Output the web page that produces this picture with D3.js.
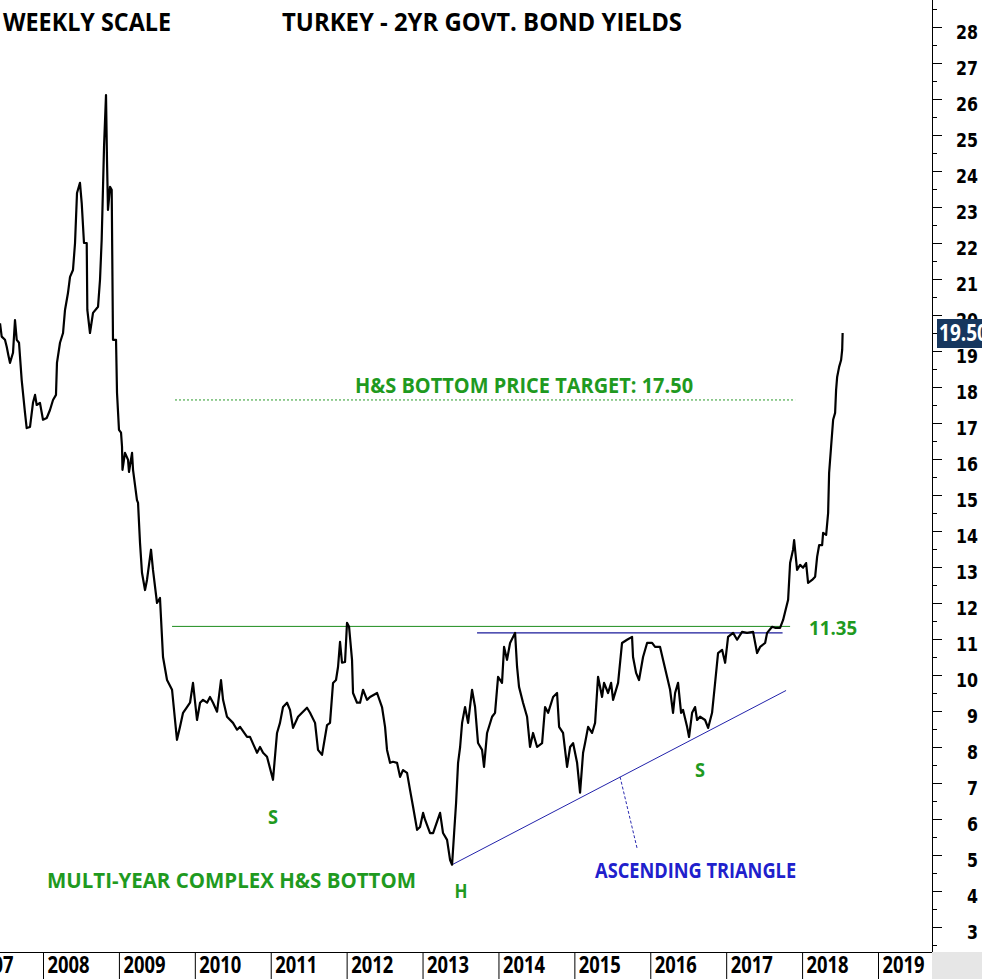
<!DOCTYPE html>
<html><head><meta charset="utf-8">
<script src="https://cdn.jsdelivr.net/npm/d3@7"></script>
<style>
body{margin:0;background:#fff;}
svg{display:block;}
</style>
</head><body>
<script>
// ---------- DATA ----------
const chartTitle = "TURKEY - 2YR GOVT. BOND YIELDS";
const scaleNote = "WEEKLY SCALE";

// decimal-year dates of the weekly series
const dates = [
2007.434,2007.456,2007.499,2007.522,2007.543,2007.565,2007.605,2007.631,2007.654,2007.684,
2007.719,2007.763,2007.785,2007.829,2007.868,2007.895,2007.917,2007.960,2008.000,2008.049,
2008.092,2008.132,2008.171,2008.184,2008.224,2008.264,2008.290,2008.329,2008.356,2008.395,
2008.422,2008.448,2008.487,2008.510,2008.540,2008.576,2008.584,2008.619,2008.659,2008.725,
2008.751,2008.773,2008.804,2008.830,2008.843,2008.856,2008.883,2008.905,2008.922,2008.962,
2008.975,2009.001,2009.028,2009.041,2009.047,2009.080,2009.120,2009.133,2009.173,2009.186,
2009.238,2009.252,2009.278,2009.304,2009.344,2009.370,2009.423,2009.449,2009.502,2009.541,
2009.581,2009.634,2009.700,2009.765,2009.805,2009.845,2009.897,2009.937,2009.976,2010.029,
2010.069,2010.108,2010.161,2010.200,2010.240,2010.293,2010.345,2010.372,2010.424,2010.503,
2010.556,2010.596,2010.688,2010.727,2010.820,2010.859,2010.899,2010.951,2011.030,2011.083,
2011.122,2011.162,2011.215,2011.254,2011.294,2011.360,2011.412,2011.478,2011.518,2011.584,
2011.623,2011.676,2011.742,2011.781,2011.821,2011.860,2011.887,2011.913,2011.939,2011.979,
2012.005,2012.032,2012.071,2012.084,2012.137,2012.177,2012.216,2012.269,2012.308,2012.401,
2012.466,2012.506,2012.532,2012.572,2012.611,2012.664,2012.704,2012.743,2012.796,2012.835,
2012.875,2012.928,2012.967,2013.007,2013.033,2013.099,2013.139,2013.231,2013.270,2013.323,
2013.363,2013.389,2013.416,2013.442,2013.468,2013.495,2013.521,2013.560,2013.600,2013.652,
2013.692,2013.731,2013.784,2013.810,2013.850,2013.916,2013.955,2013.995,2014.047,2014.074,
2014.113,2014.153,2014.219,2014.245,2014.271,2014.324,2014.377,2014.416,2014.456,2014.509,
2014.575,2014.614,2014.654,2014.720,2014.772,2014.799,2014.851,2014.904,2014.944,2014.983,
2015.036,2015.075,2015.115,2015.141,2015.181,2015.233,2015.273,2015.312,2015.365,2015.391,
2015.444,2015.484,2015.510,2015.576,2015.628,2015.694,2015.760,2015.773,2015.813,2015.852,
2015.905,2015.958,2016.024,2016.063,2016.129,2016.169,2016.221,2016.261,2016.300,2016.327,
2016.366,2016.406,2016.432,2016.485,2016.511,2016.551,2016.590,2016.617,2016.656,2016.722,
2016.762,2016.814,2016.854,2016.893,2016.946,2016.986,2017.025,2017.091,2017.144,2017.209,
2017.275,2017.354,2017.407,2017.447,2017.513,2017.539,2017.605,2017.644,2017.710,2017.750,
2017.776,2017.816,2017.842,2017.881,2017.895,2017.934,2017.974,2018.013,2018.053,2018.079,
2018.132,2018.172,2018.198,2018.225,2018.264,2018.277,2018.317,2018.343,2018.356,2018.382,
2018.409,2018.435,2018.448,2018.462,2018.488,2018.514,2018.528,2018.534
];
// 2-year yield, %
const yields = [
19.77,19.40,19.31,19.12,18.89,18.67,18.95,19.86,19.31,19.23,
18.20,17.28,16.86,16.89,17.56,17.78,17.50,17.56,17.09,17.14,
17.36,17.64,17.78,18.67,19.23,19.50,20.14,20.61,21.06,21.25,
22.00,23.39,23.67,23.11,22.00,22.00,20.14,19.50,20.06,20.23,
20.98,22.09,24.67,26.11,24.31,22.92,23.56,23.48,19.31,19.31,
17.84,16.81,16.73,16.34,15.70,16.17,15.98,15.64,16.17,15.70,
14.86,14.78,13.67,12.84,12.36,12.64,13.48,12.92,12.00,12.14,
10.50,9.86,9.59,8.20,8.56,8.95,9.11,9.23,9.78,8.75,
9.23,9.31,9.23,9.39,9.23,8.98,9.86,9.31,8.84,8.67,
8.48,8.56,8.28,8.28,7.84,8.00,7.84,7.73,7.09,8.39,
8.67,9.11,9.23,9.03,8.53,8.84,8.95,9.09,8.95,8.67,
7.92,7.78,8.61,8.67,9.78,9.86,10.23,10.92,10.34,10.36,
11.45,11.34,10.42,9.50,9.23,9.23,9.59,9.31,9.39,9.50,
9.11,8.56,7.92,7.56,7.59,7.56,7.17,7.36,7.28,6.81,
6.34,5.70,5.78,6.17,5.98,5.61,5.61,6.17,5.61,5.42,
4.86,4.73,5.61,6.45,7.56,8.00,8.67,9.11,8.67,9.59,
9.11,8.11,7.92,7.45,8.39,8.84,8.95,9.95,9.78,10.78,
10.42,10.89,11.17,10.23,9.67,9.23,8.84,8.00,8.39,8.00,
8.11,9.11,8.95,9.39,9.50,8.56,8.39,7.45,8.00,8.11,
7.56,6.73,7.84,8.11,8.56,8.39,8.67,9.95,9.39,9.78,
9.50,9.78,9.31,9.78,10.89,10.98,11.06,10.50,10.06,9.86,
10.50,10.89,10.89,10.78,10.78,10.42,9.95,9.59,8.95,9.50,
9.78,8.95,9.03,8.56,8.28,8.95,9.11,8.75,8.84,8.75,
8.53,8.95,9.78,10.61,10.70,10.34,11.06,11.17,10.98,11.20,
11.17,11.20,10.61,10.78,10.89,11.17,11.34,11.31,11.31,11.53,
11.75,12.09,13.11,13.48,13.75,12.92,13.06,12.98,13.11,12.56,
12.64,12.73,13.28,13.61,13.61,13.95,13.89,14.50,15.61,16.34,
17.09,17.28,17.92,18.28,18.56,18.75,19.03,19.50
];
const lastValueLabel = "19.50";

const yearTicks = [2007,2008,2009,2010,2011,2012,2013,2014,2015,2016,2017,2018,2019];
const yTickValues = [3,4,5,6,7,8,9,10,11,12,13,14,15,16,17,18,19,20,21,22,23,24,25,26,27,28];
const yMinorTicks = [2.5,3.5,4.5,5.5,6.5,7.5,8.5,9.5,10.5,11.5,12.5,13.5,14.5,15.5,16.5,17.5,18.5,19.5,20.5,21.5,22.5,23.5,24.5,25.5,26.5,27.5,28.5];

// pattern lines: [startDate, startValue, endDate, endValue]
const neckline = [2009.700, 11.35, 2017.842, 11.35];
const targetLine = [2009.739, 17.64, 2017.908, 17.64];
const resistance = [2013.718, 11.17, 2017.743, 11.17];
const trendline = [2013.389, 4.73, 2017.789, 9.57];
const pointerLine = [2015.602, 7.17, 2015.826, 5.19];

// annotation texts: [text, date, value]
const greenNotes = [
  ["H&S BOTTOM PRICE TARGET: 17.50", 2012.111, 17.83],
  ["11.35", 2018.092, 11.11],
  ["MULTI-YEAR COMPLEX H&S BOTTOM", 2008.053, 4.08]
];
const patternLetters = [["S", 2011.030, 5.86], ["H", 2013.507, 3.81], ["S", 2016.656, 7.17]];
const blueNote = ["ASCENDING TRIANGLE", 2015.273, 4.36];

// ---------- DRAW ----------
const W = 982, H = 979;
const axisX = 932, axisY = 952;
const svg = d3.select("body").append("svg").attr("width", W).attr("height", H);

const x = d3.scaleLinear().domain([2008, 2019]).range([43, 878]);
const y = d3.scaleLinear().domain([3, 28]).range([927, 27]);

const CAL = "'Liberation Sans Narrow','Open Sans','Liberation Sans',sans-serif";
const VER = "'DejaVu Sans','Verdana',sans-serif";

svg.append("rect").attr("width", W).attr("height", H).attr("fill", "#fff");

svg.append("defs").append("clipPath").attr("id", "plot")
  .append("rect").attr("x", 0).attr("y", 0).attr("width", axisX).attr("height", axisY);

const plot = svg.append("g").attr("clip-path", "url(#plot)");

function seg(g, s, color, width, dash) {
  g.append("line")
    .attr("x1", x(s[0])).attr("y1", y(s[1]))
    .attr("x2", x(s[2])).attr("y2", y(s[3]))
    .attr("stroke", color).attr("stroke-width", width)
    .attr("stroke-dasharray", dash || null);
}

seg(plot, targetLine, "#2a9a2a", 1, "2,2");
seg(plot, neckline, "#1e8c1e", 1);
seg(plot, resistance, "#1a1a9a", 1.2);
seg(plot, trendline, "#2222aa", 1);
seg(plot, pointerLine, "#2a2ab0", 1, "3,2");

const series = dates.map((d, i) => [d, yields[i]]);
plot.append("path").datum(series)
  .attr("fill", "none").attr("stroke", "#000").attr("stroke-width", 2.2)
  .attr("stroke-linejoin", "round")
  .attr("d", d3.line().x(d => x(d[0])).y(d => y(d[1])));

// texts
function txt(str, px, py, size, len, color, family, anchor) {
  return svg.append("text").attr("x", px).attr("y", py)
    .attr("font-family", family || CAL).attr("font-weight", "bold")
    .attr("font-size", size).attr("fill", color)
    .attr("text-anchor", anchor || "start")
    .attr("textLength", len).attr("lengthAdjust", "spacingAndGlyphs")
    .text(str);
}
txt(scaleNote, 3, 31, 25, 168, "#000");
txt(chartTitle, 282, 31, 25, 400, "#000");

const greenC = "#1f9a1f";
const noteLens = [338, 48, 369];
const noteSizes = [22, 20, 22];
greenNotes.forEach((n, i) => txt(n[0], x(n[1]), y(n[2]), noteSizes[i], noteLens[i], greenC));
const letterLens = [10, 13, 10];
patternLetters.forEach((n, i) => txt(n[0], x(n[1]), y(n[2]), 20, letterLens[i], greenC, null, "middle"));
txt(blueNote[0], x(blueNote[1]), y(blueNote[2]), 21, 201, "#2020cc");

// right axis
const yMajor = d3.axisRight(y).tickValues(yTickValues).tickSize(10).tickFormat(d3.format("d"));
const gy = svg.append("g").attr("transform", `translate(${axisX},0)`).call(yMajor);
gy.select(".domain").remove();
gy.selectAll(".tick line").attr("stroke", "#000");
gy.selectAll(".tick text")
  .attr("x", 46).attr("dy", null).attr("y", 11)
  .attr("text-anchor", "end")
  .attr("font-family", VER).attr("font-weight", "bold").attr("font-size", 19)
  .attr("fill", "#000")
  .attr("textLength", d => String(d).length > 1 ? 22 : 11)
  .attr("lengthAdjust", "spacingAndGlyphs");
const yMinor = d3.axisRight(y).tickValues(yMinorTicks).tickSize(5).tickFormat("");
const gym = svg.append("g").attr("transform", `translate(${axisX},0)`).call(yMinor);
gym.select(".domain").remove();
gym.selectAll(".tick line").attr("stroke", "#000");

// bottom band
svg.append("rect").attr("x", axisX).attr("y", axisY).attr("width", W - axisX).attr("height", H - axisY).attr("fill", "#e6e6e6");

const xAxis = d3.axisBottom(x).tickValues(yearTicks).tickSize(H - axisY).tickFormat(d3.format("d"));
const gx = svg.append("g").attr("transform", `translate(0,${axisY})`).call(xAxis);
gx.select(".domain").remove();
gx.selectAll(".tick line").attr("stroke", "#000");
gx.selectAll(".tick text")
  .attr("x", 4).attr("y", 21).attr("dy", null)
  .attr("text-anchor", "start")
  .attr("font-family", CAL).attr("font-weight", "bold").attr("font-size", 24)
  .attr("fill", "#000")
  .attr("textLength", 42).attr("lengthAdjust", "spacingAndGlyphs");

// axis lines
svg.append("line").attr("x1", axisX + 0.5).attr("x2", axisX + 0.5).attr("y1", 0).attr("y2", axisY)
  .attr("stroke", "#000").attr("stroke-width", 1);
svg.append("line").attr("x1", 0).attr("x2", axisX).attr("y1", axisY + 0.5).attr("y2", axisY + 0.5)
  .attr("stroke", "#000").attr("stroke-width", 1.2);

// last value tag
const lastV = yields[yields.length - 1];
svg.append("rect").attr("x", 937).attr("y", y(lastV) - 14).attr("width", 50).attr("height", 29)
  .attr("fill", "#17375e");
svg.append("text").attr("x", 939).attr("y", y(lastV) + 8)
  .attr("font-family", CAL).attr("font-weight", "bold").attr("font-size", 23)
  .attr("fill", "#fff")
  .attr("textLength", 49).attr("lengthAdjust", "spacingAndGlyphs")
  .text(lastValueLabel);
</script>
</body></html>
